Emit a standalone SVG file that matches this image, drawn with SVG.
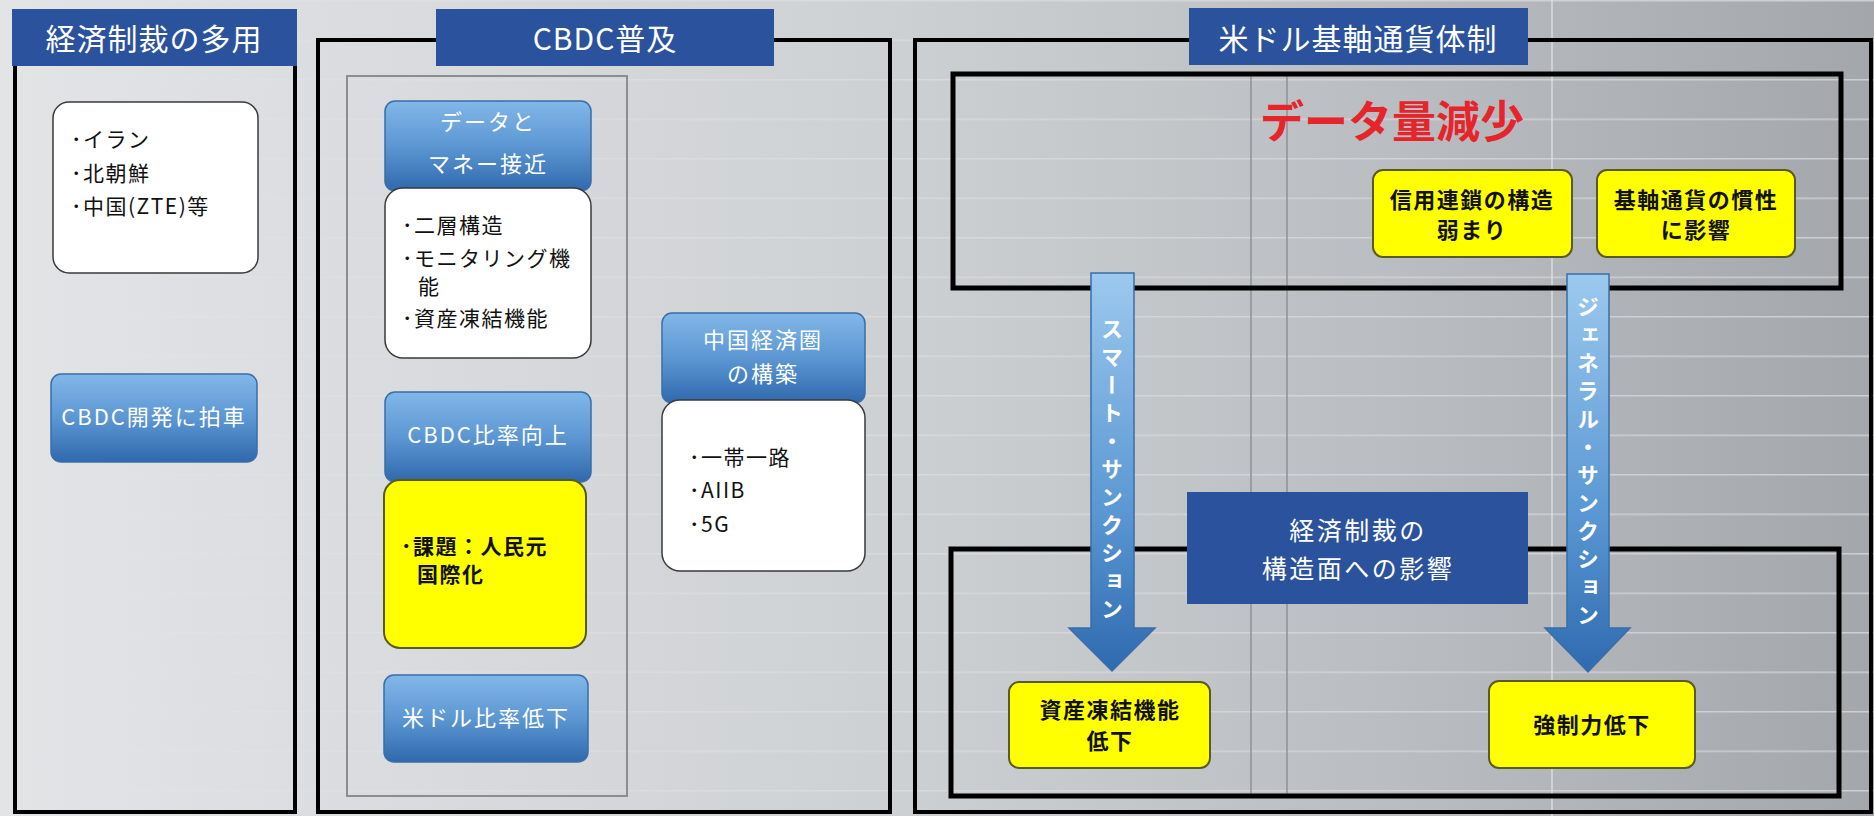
<svg xmlns="http://www.w3.org/2000/svg" width="1874" height="816" viewBox="0 0 1874 816">
<defs>
<linearGradient id="bg" x1="0" y1="0" x2="1" y2="0">
<stop offset="0" stop-color="#e2e4e6"/>
<stop offset="0.45" stop-color="#cfd2d5"/>
<stop offset="0.75" stop-color="#b9bcc0"/>
<stop offset="1" stop-color="#a3a7ab"/>
</linearGradient>
<linearGradient id="blueBox" x1="0" y1="0" x2="0" y2="1">
<stop offset="0" stop-color="#82b7e8"/>
<stop offset="0.5" stop-color="#5c97d3"/>
<stop offset="1" stop-color="#2f69ad"/>
</linearGradient>
<linearGradient id="arrowGrad" x1="0" y1="0" x2="0" y2="1">
<stop offset="0" stop-color="#9cc9ee"/>
<stop offset="0.6" stop-color="#5a97d3"/>
<stop offset="1" stop-color="#2e6aae"/>
</linearGradient>
<pattern id="streaks" x="0" y="0" width="40" height="39.5" patternUnits="userSpaceOnUse">
<rect x="0" y="0" width="40" height="1.5" fill="#ffffff"/>
</pattern>
<linearGradient id="streakFade" x1="0" y1="0" x2="1" y2="0">
<stop offset="0" stop-color="#fff" stop-opacity="0"/>
<stop offset="1" stop-color="#fff" stop-opacity="1"/>
</linearGradient>
<mask id="streakMask">
<rect x="0" y="0" width="1874" height="816" fill="url(#streakFade)"/>
</mask>
</defs>
<style>
text { font-family: 'Noto Sans CJK JP', 'Noto Sans', sans-serif; }
.panel { fill: none; stroke: #000; stroke-width: 4; }
.inner { fill: none; stroke: #000; stroke-width: 5; }
.thin { fill: none; stroke: #8a8d91; stroke-width: 2; }
.title { fill: #2b529d; }
.titleText { fill: #fff; font-size: 30px; letter-spacing: 1px; text-anchor: middle; }
.blue { fill: url(#blueBox); stroke: #3a6ea8; stroke-width: 1.5; }
.blueText { fill: #fff; font-size: 22px; letter-spacing: 2px; text-anchor: middle; }
.white { fill: #fff; stroke: #3a3a3a; stroke-width: 1.5; }
.bullet { fill: #111; font-size: 21px; letter-spacing: 1.5px; }
.yellow { fill: #ffff00; stroke: #5a5a20; stroke-width: 2; }
.yText { fill: #111; font-size: 22px; font-weight: bold; letter-spacing: 1.5px; text-anchor: middle; }
.dark { fill: #2b529d; }
.darkText { fill: #fff; font-size: 25px; letter-spacing: 2.5px; text-anchor: middle; }
.arrow { fill: url(#arrowGrad); stroke: #3a6ea8; stroke-width: 1.5; }
.vText { fill: #fff; font-size: 22px; font-weight: bold; letter-spacing: 6px; writing-mode: vertical-rl; }
.red { fill: #e5252b; font-size: 44px; font-weight: bold; text-anchor: middle; }
.vline { stroke: #8e9296; stroke-width: 1.5; }
</style>

<!-- background -->
<rect x="0" y="0" width="1874" height="816" fill="url(#bg)"/>
<rect x="0" y="0" width="1874" height="816" fill="url(#streaks)" opacity="0.45" mask="url(#streakMask)"/>
<line class="vline" x1="1251" y1="74" x2="1251" y2="797"/>
<line class="vline" x1="1287" y1="74" x2="1287" y2="797"/>
<line x1="1552" y1="0" x2="1552" y2="816" stroke="#e4e6e8" stroke-width="1.2"/>

<!-- left panel -->
<g id="panel-sanctions">
<rect class="panel" x="15" y="40" width="280" height="772"/>
<rect class="title" x="12" y="9" width="285" height="57"/>
<text class="titleText" x="154" y="50">経済制裁の多用</text>
</g>
<g id="node-countries">
<rect class="white" x="53" y="102" width="205" height="171" rx="16"/>
<text class="bullet" x="71" y="147">･イラン</text>
<text class="bullet" x="71" y="181">･北朝鮮</text>
<text class="bullet" x="71" y="214">･中国(ZTE)等</text>
</g>
<g id="node-cbdc-dev">
<rect class="blue" x="51" y="374" width="206" height="88" rx="10"/>
<text class="blueText" x="154" y="425">CBDC開発に拍車</text>
</g>

<!-- middle panel -->
<g id="panel-cbdc">
<rect class="panel" x="318" y="40" width="572" height="772"/>
<rect class="title" x="436" y="9" width="338" height="57"/>
<text class="titleText" x="605" y="50">CBDC普及</text>
<rect class="thin" x="347" y="76" width="280" height="720"/>
</g>
<g id="node-data-money">
<rect class="blue" x="385" y="101" width="206" height="90" rx="10"/>
<text class="blueText" x="488" y="130">データと</text>
<text class="blueText" x="488" y="172">マネー接近</text>
</g>
<g id="node-structure">
<rect class="white" x="385" y="188" width="206" height="170" rx="18"/>
<text class="bullet" x="402" y="233">･二層構造</text>
<text class="bullet" x="402" y="266">･モニタリング機</text>
<text class="bullet" x="418" y="294">能</text>
<text class="bullet" x="402" y="326">･資産凍結機能</text>
</g>
<g id="node-cbdc-ratio">
<rect class="blue" x="385" y="392" width="206" height="90" rx="10"/>
<text class="blueText" x="488" y="443">CBDC比率向上</text>
</g>
<g id="node-issue">
<rect class="yellow" x="384" y="480" width="202" height="168" rx="16"/>
<text class="bullet" x="401" y="554" font-weight="bold" letter-spacing="0.5">･課題：人民元</text>
<text class="bullet" x="417" y="582" font-weight="bold">国際化</text>
</g>
<g id="node-usd-ratio">
<rect class="blue" x="384" y="675" width="204" height="87" rx="10"/>
<text class="blueText" x="486" y="726">米ドル比率低下</text>
</g>
<g id="node-china-zone">
<rect class="blue" x="662" y="313" width="203" height="90" rx="10"/>
<text class="blueText" x="763" y="348">中国経済圏</text>
<text class="blueText" x="763" y="382">の構築</text>
</g>
<g id="node-belt-road">
<rect class="white" x="662" y="400" width="203" height="171" rx="18"/>
<text class="bullet" x="689" y="465">･一帯一路</text>
<text class="bullet" x="689" y="498">･AIIB</text>
<text class="bullet" x="689" y="532">･5G</text>
</g>

<!-- right panel -->
<g id="panel-usd">
<rect class="panel" x="915" y="40" width="956" height="772"/>
<rect class="title" x="1189" y="8" width="339" height="57"/>
<text class="titleText" x="1358" y="50">米ドル基軸通貨体制</text>
<rect class="inner" x="953" y="74" width="888" height="214"/>
<rect class="inner" x="951" y="549" width="888" height="247"/>
<text class="red" x="1392" y="138">データ量減少</text>
</g>
<g id="node-credit-chain">
<rect class="yellow" x="1373" y="170" width="199" height="87" rx="10"/>
<text class="yText" x="1472" y="208">信用連鎖の構造</text>
<text class="yText" x="1472" y="238">弱まり</text>
</g>
<g id="node-inertia">
<rect class="yellow" x="1597" y="170" width="198" height="87" rx="10"/>
<text class="yText" x="1696" y="208">基軸通貨の慣性</text>
<text class="yText" x="1696" y="238">に影響</text>
</g>

<!-- connectors -->
<g id="connectors">
<path class="arrow" d="M1091,273 H1134 V628 H1155 L1112,671 L1069,628 H1091 Z"/>
<text class="vText" x="1112" y="318">スマート・サンクション</text>
<path class="arrow" d="M1567,274 H1609 V628 H1630 L1588,672 L1545,628 H1567 Z"/>
<text class="vText" x="1588" y="296">ジェネラル・サンクション</text>
</g>

<g id="node-structural-impact">
<rect class="dark" x="1187" y="492" width="341" height="112"/>
<text class="darkText" x="1358" y="540">経済制裁の</text>
<text class="darkText" x="1358" y="578">構造面への影響</text>
</g>
<g id="node-asset-freeze">
<rect class="yellow" x="1009" y="682" width="201" height="86" rx="10"/>
<text class="yText" x="1110" y="718">資産凍結機能</text>
<text class="yText" x="1110" y="749">低下</text>
</g>
<g id="node-enforcement">
<rect class="yellow" x="1489" y="681" width="206" height="87" rx="10"/>
<text class="yText" x="1592" y="733">強制力低下</text>
</g>
</svg>
